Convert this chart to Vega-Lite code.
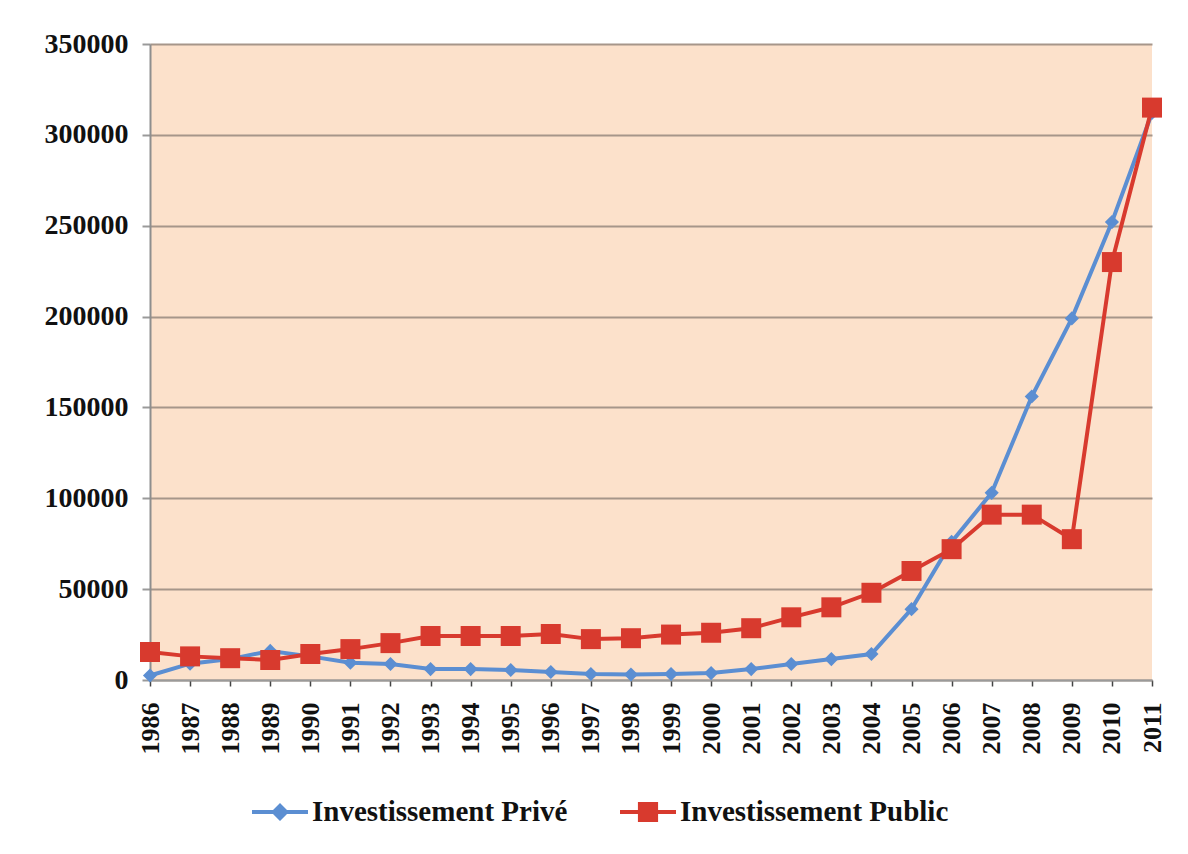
{
  "$schema": "https://vega.github.io/schema/vega-lite/v6.json",
  "width": 1002,
  "height": 636,
  "autosize": "none",
  "padding": {"left": 150, "top": 44, "right": 36, "bottom": 174},
  "background": "white",
  "config": {
    "view": {"fill": "#FCE1CB", "stroke": null},
    "font": "Liberation Serif",
    "axisY": {
      "labelFont": "Liberation Serif", "labelFontSize": 28, "labelFontWeight": "bold", "labelColor": "#111111",
      "labelPadding": 14, "tickSize": 8, "tickColor": "#9A9A9A", "tickWidth": 2,
      "domainColor": "#8E8E8E", "domainWidth": 2,
      "gridColor": "#A6968A", "gridWidth": 2, "title": null
    },
    "axisX": {
      "labelFont": "Liberation Serif", "labelFontSize": 26, "labelFontWeight": "bold", "labelColor": "#111111",
      "labelAngle": -90, "labelAlign": "right", "labelBaseline": "middle", "labelPadding": 16,
      "tickSize": 6, "tickColor": "#444444", "tickWidth": 1.5,
      "domainColor": "#9A9A9A", "domainWidth": 2, "grid": false, "title": null
    },
    "legend": {
      "labelFont": "Liberation Serif", "labelFontSize": 29, "labelFontWeight": "bold", "labelColor": "#111111",
      "labelOffset": 4, "columnPadding": 52, "symbolStrokeWidth": 0, "labelLimit": 400
    }
  },
  "data": {
    "values": [
      {"year": "1986", "series": "Investissement Privé", "value": 2500},
      {"year": "1987", "series": "Investissement Privé", "value": 9000},
      {"year": "1988", "series": "Investissement Privé", "value": 11500},
      {"year": "1989", "series": "Investissement Privé", "value": 16000},
      {"year": "1990", "series": "Investissement Privé", "value": 13000},
      {"year": "1991", "series": "Investissement Privé", "value": 9500},
      {"year": "1992", "series": "Investissement Privé", "value": 8800},
      {"year": "1993", "series": "Investissement Privé", "value": 6000},
      {"year": "1994", "series": "Investissement Privé", "value": 6000},
      {"year": "1995", "series": "Investissement Privé", "value": 5500},
      {"year": "1996", "series": "Investissement Privé", "value": 4400},
      {"year": "1997", "series": "Investissement Privé", "value": 3300},
      {"year": "1998", "series": "Investissement Privé", "value": 3000},
      {"year": "1999", "series": "Investissement Privé", "value": 3300},
      {"year": "2000", "series": "Investissement Privé", "value": 3800},
      {"year": "2001", "series": "Investissement Privé", "value": 6000},
      {"year": "2002", "series": "Investissement Privé", "value": 8800},
      {"year": "2003", "series": "Investissement Privé", "value": 11500},
      {"year": "2004", "series": "Investissement Privé", "value": 14300},
      {"year": "2005", "series": "Investissement Privé", "value": 39000},
      {"year": "2006", "series": "Investissement Privé", "value": 76000},
      {"year": "2007", "series": "Investissement Privé", "value": 103000},
      {"year": "2008", "series": "Investissement Privé", "value": 156000},
      {"year": "2009", "series": "Investissement Privé", "value": 199000},
      {"year": "2010", "series": "Investissement Privé", "value": 252000},
      {"year": "2011", "series": "Investissement Privé", "value": 312000},
      {"year": "1986", "series": "Investissement Public", "value": 15400},
      {"year": "1987", "series": "Investissement Public", "value": 13000},
      {"year": "1988", "series": "Investissement Public", "value": 12000},
      {"year": "1989", "series": "Investissement Public", "value": 11000},
      {"year": "1990", "series": "Investissement Public", "value": 14300},
      {"year": "1991", "series": "Investissement Public", "value": 17000},
      {"year": "1992", "series": "Investissement Public", "value": 20300},
      {"year": "1993", "series": "Investissement Public", "value": 24200},
      {"year": "1994", "series": "Investissement Public", "value": 24200},
      {"year": "1995", "series": "Investissement Public", "value": 24200},
      {"year": "1996", "series": "Investissement Public", "value": 25300},
      {"year": "1997", "series": "Investissement Public", "value": 22500},
      {"year": "1998", "series": "Investissement Public", "value": 23000},
      {"year": "1999", "series": "Investissement Public", "value": 25000},
      {"year": "2000", "series": "Investissement Public", "value": 26000},
      {"year": "2001", "series": "Investissement Public", "value": 28500},
      {"year": "2002", "series": "Investissement Public", "value": 34500},
      {"year": "2003", "series": "Investissement Public", "value": 40000},
      {"year": "2004", "series": "Investissement Public", "value": 48000},
      {"year": "2005", "series": "Investissement Public", "value": 60000},
      {"year": "2006", "series": "Investissement Public", "value": 72000},
      {"year": "2007", "series": "Investissement Public", "value": 91000},
      {"year": "2008", "series": "Investissement Public", "value": 91000},
      {"year": "2009", "series": "Investissement Public", "value": 77500},
      {"year": "2010", "series": "Investissement Public", "value": 230000},
      {"year": "2011", "series": "Investissement Public", "value": 315000}
    ]
  },
  "encoding": {
    "x": {"field": "year", "type": "ordinal", "scale": {"type": "point", "padding": 0}, "axis": {}},
    "y": {
      "field": "value", "type": "quantitative",
      "scale": {"domain": [0, 350000], "nice": false},
      "axis": {"values": [0, 50000, 100000, 150000, 200000, 250000, 300000, 350000], "format": "d"}
    },
    "color": {
      "field": "series", "type": "nominal",
      "scale": {"domain": ["Investissement Privé", "Investissement Public"], "range": ["#5B8ED2", "#D83A2E"]},
      "legend": {
        "title": null, "orient": "none", "direction": "horizontal", "legendX": 102, "legendY": 740,
        "encode": {
          "symbols": {
            "update": {
              "shape": {"signal": "datum.value === 'Investissement Privé' ? 'M-1,-0.07H-0.25L0,-0.32L0.25,-0.07H1V0.07H0.25L0,0.32L-0.25,0.07H-1Z' : 'M-1,-0.07H-0.36V-0.36H0.36V-0.07H1V0.07H0.36V0.36H-0.36V0.07H-1Z'"},
              "size": {"value": 3136},
              "fill": {"signal": "datum.value === 'Investissement Privé' ? '#5B8ED2' : '#D83A2E'"},
              "stroke": {"value": "transparent"},
              "strokeWidth": {"value": 0},
              "opacity": {"value": 1}
            }
          }
        }
      }
    }
  },
  "layer": [
    {
      "transform": [{"filter": "datum.series === 'Investissement Privé'"}],
      "mark": {"type": "line", "strokeWidth": 4}
    },
    {
      "transform": [{"filter": "datum.series === 'Investissement Privé'"}],
      "mark": {"type": "point", "shape": "diamond", "filled": true, "opacity": 1, "size": 200}
    },
    {
      "transform": [{"filter": "datum.series === 'Investissement Public'"}],
      "mark": {"type": "line", "strokeWidth": 4, "color": "#C3362B"}
    },
    {
      "transform": [{"filter": "datum.series === 'Investissement Public'"}],
      "mark": {"type": "point", "shape": "square", "filled": true, "opacity": 1, "size": 400}
    }
  ]
}
